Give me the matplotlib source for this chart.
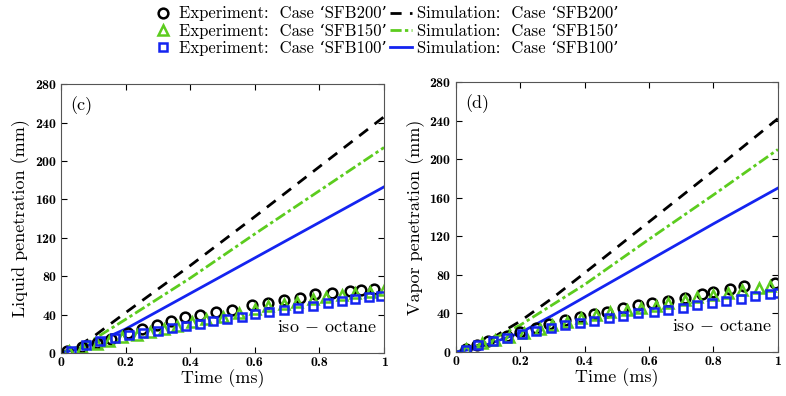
import matplotlib
matplotlib.use('Agg')
import matplotlib.pyplot as plt
from matplotlib.lines import Line2D

plt.rcParams['font.family'] = ['cmr10', 'DejaVu Serif']
plt.rcParams['mathtext.fontset'] = 'cm'
plt.rcParams['axes.formatter.use_mathtext'] = True

# ---- data, panel (c): liquid penetration ----
liq_t200 = [0.02, 0.065, 0.11, 0.155, 0.207, 0.25, 0.296, 0.34, 0.384, 0.43, 0.48,
            0.53, 0.59, 0.64, 0.69, 0.74, 0.786, 0.838, 0.895, 0.93, 0.97]
liq_y200 = [2, 6, 10, 15, 20.5, 25, 29, 33, 37, 39.5, 43,
            45, 49.5, 52.5, 55.5, 57.5, 61, 62.5, 64.5, 65.5, 67]
liq_t150 = [0.025, 0.065, 0.11, 0.15, 0.19, 0.235, 0.275, 0.32, 0.36, 0.405, 0.45, 0.50,
            0.55, 0.60, 0.64, 0.69, 0.73, 0.78, 0.82, 0.87, 0.91, 0.955, 1.0]
liq_y150 = [2, 5, 9, 13, 17, 19, 22, 25, 28, 32, 35, 38,
            42, 46, 49, 51, 53, 56, 58, 60, 62, 64, 66]
liq_t100 = [0.03, 0.077, 0.12, 0.166, 0.21, 0.255, 0.30, 0.345, 0.386, 0.43, 0.47, 0.515,
            0.56, 0.60, 0.645, 0.69, 0.735, 0.78, 0.825, 0.87, 0.91, 0.953, 0.99]
liq_y100 = [2, 8, 13, 16, 19, 21, 23, 26, 28, 30.5, 33, 35,
            38, 40.5, 43, 45, 47, 49, 52, 54, 56, 58, 59.5]
liq_sim_t = [0, 0.05, 0.1, 0.2, 0.4, 0.6, 0.8, 1.0]
liq_sim200 = [0, 7, 17, 42, 91, 142, 194, 246]
liq_sim150 = [0, 6, 14, 35, 78, 124, 169, 214]
liq_sim100 = [0, 4, 10, 25, 62, 99, 136, 173]

# ---- data, panel (d): vapor penetration ----
vap_t200 = [0.03, 0.065, 0.1, 0.16, 0.2, 0.25, 0.29, 0.34, 0.385, 0.43, 0.47,
            0.52, 0.565, 0.61, 0.66, 0.71, 0.765, 0.80, 0.85, 0.895, 0.99]
vap_y200 = [3, 7, 11, 17, 21, 25, 29, 33, 36, 39, 42,
            46, 48.5, 50.5, 53, 56.5, 60, 62.5, 65, 68, 72]
vap_t150 = [0.03, 0.08, 0.12, 0.165, 0.21, 0.26, 0.30, 0.345, 0.39, 0.435, 0.48,
            0.53, 0.575, 0.62, 0.66, 0.71, 0.75, 0.80, 0.845, 0.89, 0.94, 0.975]
vap_y150 = [3, 9, 12, 16, 20, 24, 28, 31, 35, 38, 41,
            44, 46, 48, 51, 54, 57, 59, 61, 64, 66, 68]
vap_t100 = [0.03, 0.07, 0.115, 0.16, 0.205, 0.25, 0.295, 0.34, 0.385, 0.43, 0.475, 0.52,
            0.565, 0.615, 0.66, 0.705, 0.75, 0.795, 0.84, 0.885, 0.93, 0.975, 1.0]
vap_y100 = [2, 7, 11, 15, 19, 22, 25, 28, 30, 32, 35, 37,
            40, 42, 44, 46, 49, 51, 53, 55, 58, 60, 61]
vap_sim_t = [0, 0.05, 0.1, 0.2, 0.3, 0.4, 0.6, 0.8, 1.0]
vap_sim200 = [0, 4, 12, 32, 56, 82, 135, 188, 242]
vap_sim150 = [0, 4, 11, 28, 49, 70, 117, 163, 210]
vap_sim100 = [0, 3, 8, 20, 38, 57, 95, 133, 170]

c_black = 'black'
c_green = '#5ccc1e'
c_blue = '#1424f0'

mk = dict(linestyle='none', markerfacecolor='none', markersize=7, markeredgewidth=1.8)
mk_sq = dict(linestyle='none', markerfacecolor='none', markersize=6, markeredgewidth=1.8)
ls_dash = (0, (4, 3))
ls_dashdot = (0, (4, 1.2, 1.2, 1.2))

fig = plt.figure(figsize=(7.86, 3.96), dpi=100)
ax1 = fig.add_axes([0.0776, 0.1086, 0.411, 0.679])
ax2 = fig.add_axes([0.580, 0.111, 0.4097, 0.682])


def draw(ax, t200, y200, t150, y150, t100, y100, st, s200, s150, s100, ylabel, tag):
    ax.plot(st, s200, color=c_black, linestyle=ls_dash, linewidth=2)
    ax.plot(st, s150, color=c_green, linestyle=ls_dashdot, linewidth=2)
    ax.plot(st, s100, color=c_blue, linestyle='-', linewidth=2)
    ax.plot(t200, y200, marker='o', markeredgecolor=c_black, **mk)
    ax.plot(t150, y150, marker='^', markeredgecolor=c_green, **mk)
    ax.plot(t100, y100, marker='s', markeredgecolor=c_blue, **mk_sq)
    ax.set_xlim(0, 1)
    ax.set_ylim(0, 280)
    ax.set_xticks([0, 0.2, 0.4, 0.6, 0.8, 1])
    ax.set_xticklabels(['0', '0.2', '0.4', '0.6', '0.8', '1'])
    ax.set_yticks(range(0, 281, 40))
    ax.tick_params(direction='in', top=True, right=True, length=4, width=0.8,
                   labelsize=10, pad=3)
    for lab in ax.get_xticklabels() + ax.get_yticklabels():
        lab.set_fontfamily('cmb10')
    for sp in ax.spines.values():
        sp.set_color('#555555')
    ax.set_xlabel('Time (ms)', fontsize=13, labelpad=0)
    ax.set_ylabel(ylabel, fontsize=13, labelpad=3)
    ax.text(0.03, 0.955, tag, transform=ax.transAxes, fontsize=13, va='top', ha='left')
    ax.text(0.67, 27, r'iso $-$ octane', fontsize=13, va='center')


draw(ax1, liq_t200, liq_y200, liq_t150, liq_y150, liq_t100, liq_y100,
     liq_sim_t, liq_sim200, liq_sim150, liq_sim100, 'Liquid penetration (mm)', '(c)')
draw(ax2, vap_t200, vap_y200, vap_t150, vap_y150, vap_t100, vap_y100,
     vap_sim_t, vap_sim200, vap_sim150, vap_sim100, 'Vapor penetration (mm)', '(d)')

handles = [
    Line2D([], [], marker='o', markeredgecolor=c_black, **mk),
    Line2D([], [], marker='^', markeredgecolor=c_green, **mk),
    Line2D([], [], marker='s', markeredgecolor=c_blue, **mk_sq),
    Line2D([], [], color=c_black, linestyle=ls_dash, linewidth=2),
    Line2D([], [], color=c_green, linestyle=ls_dashdot, linewidth=2),
    Line2D([], [], color=c_blue, linestyle='-', linewidth=2),
]
labels = [
    'Experiment:  Case ‘SFB200’',
    'Experiment:  Case ‘SFB150’',
    'Experiment:  Case ‘SFB100’',
    'Simulation:  Case ‘SFB200’',
    'Simulation:  Case ‘SFB150’',
    'Simulation:  Case ‘SFB100’',
]
fig.legend(handles, labels, loc='upper center', bbox_to_anchor=(0.49, 1.01), ncol=2,
           frameon=False, fontsize=12, handlelength=1.3, handletextpad=0.3,
           columnspacing=0.2, labelspacing=0.12, borderaxespad=0.2)

fig.savefig('out.png', dpi=100)
